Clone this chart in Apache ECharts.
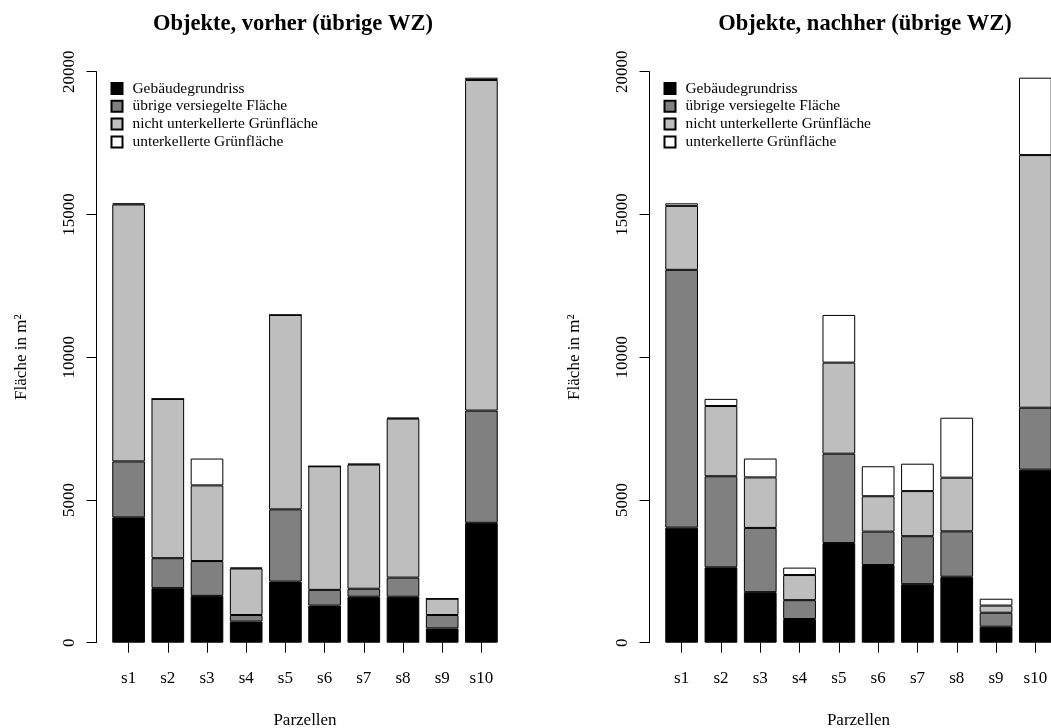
<!DOCTYPE html>
<html>
<head>
<meta charset="utf-8">
<script src="https://cdn.jsdelivr.net/npm/echarts@6/dist/echarts.min.js"></script>
<style>
  html, body { margin: 0; padding: 0; background: #ffffff; }
  #chart { width: 1051px; height: 728px; }
</style>
</head>
<body>
<div id="chart"></div>
<script>
// Parcels and area shares (m²) before and after
const categories = ['s1', 's2', 's3', 's4', 's5', 's6', 's7', 's8', 's9', 's10'];
const seriesNames = ['Gebäudegrundriss', 'übrige versiegelte Fläche', 'nicht unterkellerte Grünfläche', 'unterkellerte Grünfläche'];
const yTicks = [0, 5000, 10000, 15000, 20000];

const vorherGebaeude      = [4390, 1910, 1640,  740, 2140, 1300, 1610, 1610, 500,  4200];
const vorherVersiegelt    = [1960, 1050, 1220,  230, 2530,  550,  280,  670, 470,  3930];
const vorherGruen         = [9000, 5580, 2650, 1630, 6810, 4330, 4350, 5570, 570, 11580];
const vorherUnterkellert  = [  40,    0,  940,   30,    0,    0,   30,   30,   0,    80];

const nachherGebaeude     = [4030, 2640, 1770,  830, 3490, 2720, 2050, 2310, 560,  6060];
const nachherVersiegelt   = [9030, 3190, 2250,  660, 3130, 1170, 1680, 1590, 490,  2170];
const nachherGruen        = [2240, 2460, 1770,  880, 3190, 1240, 1580, 1880, 250,  8850];
const nachherUnterkellert = [  90,  250,  660,  260, 1670, 1050,  960, 2100, 240,  2710];

const fills = ['#000000', '#808080', '#bebebe', '#ffffff'];
const FONT = 'Liberation Serif';

const chart = echarts.init(document.getElementById('chart'), null, { renderer: 'canvas' });

function makeBars(lists, gridIdx) {
  return lists.map((vals, i) => ({
    name: seriesNames[i],
    type: 'bar',
    stack: 'panel' + gridIdx,
    xAxisIndex: gridIdx,
    yAxisIndex: gridIdx,
    barWidth: '83.3%',
    data: vals,
    itemStyle: { color: fills[i], borderColor: '#000000', borderWidth: 1 },
    emphasis: { disabled: true },
    animation: false
  }));
}

function xAxisFor(gridIdx) {
  return {
    type: 'category',
    gridIndex: gridIdx,
    data: categories,
    axisLine: { show: false },
    axisTick: { show: true, alignWithLabel: true, length: 10, lineStyle: { color: '#000', width: 1 } },
    axisLabel: { color: '#000', fontFamily: FONT, fontSize: 17, margin: 27 },
    name: 'Parzellen',
    nameLocation: 'middle',
    nameGap: 69,
    nameTextStyle: { color: '#000', fontFamily: FONT, fontSize: 17 }
  };
}

function yAxisFor(gridIdx) {
  return {
    type: 'value',
    gridIndex: gridIdx,
    min: yTicks[0],
    max: yTicks[yTicks.length - 1],
    interval: 5000,
    offset: 12.5,
    splitLine: { show: false },
    axisLine: { show: true, lineStyle: { color: '#000', width: 1 } },
    axisTick: { show: true, length: 10, lineStyle: { color: '#000', width: 1 } },
    axisLabel: { color: '#000', fontFamily: FONT, fontSize: 17, rotate: 90, margin: 18,
                 formatter: v => String(v) },
    name: 'Fläche in m²',
    nameLocation: 'middle',
    nameRotate: 90,
    nameGap: 66,
    nameTextStyle: { color: '#000', fontFamily: FONT, fontSize: 17 }
  };
}

function legendFor(left) {
  return {
    left: left,
    top: 81,
    padding: 0,
    orient: 'vertical',
    itemWidth: 11,
    itemHeight: 11,
    itemGap: 2.8,
    icon: 'rect',
    selectedMode: false,
    data: seriesNames,
    textStyle: { color: '#000', fontFamily: FONT, fontSize: 15.4, lineHeight: 15, padding: [0, 0, 0, 5] }
  };
}

chart.setOption({
  backgroundColor: '#ffffff',
  animation: false,
  title: [
    { text: 'Objekte, vorher (übrige WZ)', left: 288, top: 8, textAlign: 'center',
      textStyle: { color: '#000', fontFamily: FONT, fontSize: 22.5, fontWeight: 'bold' } },
    { text: 'Objekte, nachher (übrige WZ)', left: 860, top: 8, textAlign: 'center',
      textStyle: { color: '#000', fontFamily: FONT, fontSize: 22.5, fontWeight: 'bold' } }
  ],
  legend: [legendFor(110.5), legendFor(663.5)],
  grid: [
    { left: 109, top: 71.7, width: 392, height: 571, outerBoundsMode: 'none', containLabel: false },
    { left: 662, top: 71.7, width: 393, height: 571, outerBoundsMode: 'none', containLabel: false }
  ],
  xAxis: [xAxisFor(0), xAxisFor(1)],
  yAxis: [yAxisFor(0), yAxisFor(1)],
  series: [
    ...makeBars([vorherGebaeude, vorherVersiegelt, vorherGruen, vorherUnterkellert], 0),
    ...makeBars([nachherGebaeude, nachherVersiegelt, nachherGruen, nachherUnterkellert], 1)
  ]
});
</script>
</body>
</html>
